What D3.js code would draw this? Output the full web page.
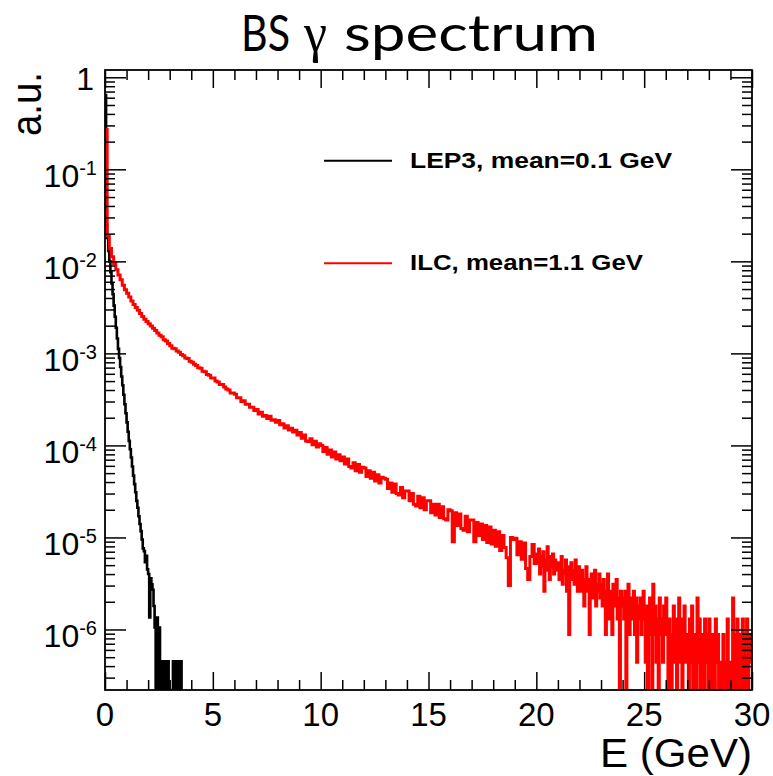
<!DOCTYPE html>
<html lang="en">
<head>
	<meta charset="utf-8">
	<title>BS gamma spectrum</title>
	<script src="https://cdn.jsdelivr.net/npm/d3@7"></script>
	<style>
		body { margin: 0; background: #fff; }
		svg { display: block; }
	</style>
</head>
<body>
	<script>
	// ILC spectrum 0-20 GeV, 0.1 GeV bins (a.u.)
	var ilcLowBin = 0.1;
	var ilcLow = [
		0.27, 1.9e-2, 1.38e-2, 1.12e-2, 9.5e-3, 8.1e-3, 7.1e-3, 6.3e-3, 5.5e-3, 4.9e-3,
		4.5e-3, 4.1e-3, 3.7e-3, 3.4e-3, 3.15e-3, 2.95e-3, 2.72e-3, 2.52e-3, 2.35e-3, 2.22e-3,
		2.1e-3, 1.98e-3, 1.87e-3, 1.77e-3, 1.67e-3, 1.57e-3, 1.52e-3, 1.41e-3, 1.36e-3, 1.28e-3,
		1.21e-3, 1.14e-3, 1.12e-3, 1.06e-3, 1.03e-3, 9.7e-4, 9.4e-4, 8.9e-4, 8.8e-4, 8.2e-4,
		8.0e-4, 7.6e-4, 7.4e-4, 7.0e-4, 6.9e-4, 6.4e-4, 6.3e-4, 5.9e-4, 5.8e-4, 5.4e-4,
		5.4e-4, 5.0e-4, 4.9e-4, 4.6e-4, 4.6e-4, 4.3e-4, 4.1e-4, 4.0e-4, 3.7e-4, 3.7e-4,
		3.6e-4, 3.3e-4, 3.3e-4, 3.0e-4, 3.05e-4, 2.8e-4, 2.8e-4, 2.6e-4, 2.6e-4, 2.4e-4,
		2.45e-4, 2.2e-4, 2.3e-4, 2.08e-4, 2.12e-4, 1.96e-4, 2.07e-4, 1.88e-4, 1.9e-4, 1.78e-4,
		1.86e-4, 1.68e-4, 1.72e-4, 1.55e-4, 1.64e-4, 1.47e-4, 1.54e-4, 1.40e-4, 1.46e-4, 1.30e-4,
		1.38e-4, 1.20e-4, 1.30e-4, 1.12e-4, 1.10e-4, 1.18e-4, 1.02e-4, 1.11e-4, 9.6e-5, 1.04e-4,
		1.0e-4, 8.6e-5, 9.5e-5, 8.0e-5, 8.9e-5, 7.5e-5, 8.5e-5, 7.1e-5, 7.9e-5, 6.8e-5,
		7.5e-5, 6.3e-5, 7.1e-5, 5.9e-5, 5.7e-5, 6.5e-5, 5.3e-5, 6.2e-5, 5.1e-5, 5.8e-5,
		5.7e-5, 4.6e-5, 5.3e-5, 4.4e-5, 5.1e-5, 4.1e-5, 4.8e-5, 3.9e-5, 4.5e-5, 4.4e-5,
		4.3e-5, 3.4e-5, 3.9e-5, 3.1e-5, 3.8e-5, 3.0e-5, 2.9e-5, 3.5e-5, 2.7e-5, 3.2e-5,
		3.2e-5, 2.5e-5, 3.0e-5, 2.3e-5, 2.2e-5, 2.8e-5, 2.1e-5, 2.7e-5, 2.0e-5, 2.5e-5,
		2.5e-5, 1.85e-5, 2.3e-5, 1.75e-5, 2.3e-5, 1.65e-5, 2.15e-5, 1.6e-5, 1.55e-5, 2.0e-5,
		1.95e-5, 9.0e-6, 1.85e-5, 1.35e-5, 1.8e-5, 1.25e-5, 1.2e-5, 1.7e-5, 1.15e-5, 1.55e-5,
		1.55e-5, 9.0e-6, 1.45e-5, 1.05e-5, 1.4e-5, 9.5e-6, 1.35e-5, 8.8e-6, 1.3e-5, 8.5e-6,
		1.2e-5, 8.0e-6, 1.15e-5, 7.2e-6, 1.05e-5, 7.8e-6, 6.0e-6, 3.0e-6, 1.0e-5, 9.5e-6,
		9.8e-6, 6.5e-6, 9.0e-6, 5.8e-6, 8.7e-6, 4.6e-6, 3.5e-6, 6.2e-6, 8.4e-6, 5.2e-6
	];

	// ILC spectrum 20-30 GeV, 0.05 GeV bins (a.u.)
	var ilcTailBin = 0.05;
	var ilcTail = [
		6.6e-6, 5.3e-6, 7.5e-6, 4.0e-6, 6.2e-6, 4.8e-6, 7.0e-6, 2.6e-6, 5.7e-6, 4.4e-6,
		7.9e-6, 5.3e-6, 3.5e-6, 6.2e-6, 4.8e-6, 6.6e-6, 4.0e-6, 5.7e-6, 4.4e-6, 5.3e-6,
		5.3e-6, 3.5e-6, 4.8e-6, 6.2e-6, 3.1e-6, 4.4e-6, 4.0e-6, 5.7e-6, 2.6e-6, 4.8e-6,
		8.8e-7, 4.0e-6, 5.3e-6, 3.5e-6, 4.4e-6, 3.1e-6, 5.7e-6, 4.0e-6, 2.6e-6, 4.8e-6,
		4.0e-6, 2.6e-6, 4.4e-6, 3.1e-6, 1.8e-6, 3.5e-6, 4.8e-6, 2.6e-6, 3.5e-6, 8.8e-7,
		3.1e-6, 4.0e-6, 2.2e-6, 3.5e-6, 4.4e-6, 1.8e-6, 3.1e-6, 2.6e-6, 4.0e-6, 2.2e-6,
		3.1e-6, 1.8e-6, 3.5e-6, 2.2e-6, 8.8e-7, 2.6e-6, 4.0e-6, 1.3e-6, 2.6e-6, 2.2e-6,
		8.8e-7, 3.1e-6, 1.8e-6, 2.6e-6, 3.5e-6, 1.3e-6, 2.2e-6, 0, 2.6e-6, 1.8e-6,
		2.2e-6, 1.3e-6, 2.6e-6, 0, 1.8e-6, 3.1e-6, 8.8e-7, 2.2e-6, 1.8e-6, 1.3e-6,
		2.6e-6, 8.8e-7, 2.2e-6, 4.4e-7, 1.8e-6, 1.3e-6, 2.2e-6, 8.8e-7, 1.8e-6, 2.6e-6,
		1.3e-6, 4.4e-7, 1.8e-6, 0, 8.8e-7, 2.2e-6, 1.3e-6, 0, 3.1e-6, 8.8e-7,
		1.8e-6, 4.4e-7, 1.3e-6, 0, 2.2e-6, 8.8e-7, 1.3e-6, 4.4e-7, 1.8e-6, 8.8e-7,
		2.2e-6, 8.8e-7, 0, 1.3e-6, 4.4e-7, 0, 8.8e-7, 1.8e-6, 4.4e-7, 1.3e-6,
		0, 8.8e-7, 2.2e-6, 4.4e-7, 1.3e-6, 0, 8.8e-7, 1.8e-6, 4.4e-7, 8.8e-7,
		8.8e-7, 0, 1.3e-6, 4.4e-7, 1.8e-6, 0, 4.4e-7, 8.8e-7, 0, 2.2e-6,
		4.4e-7, 1.3e-6, 0, 8.8e-7, 4.4e-7, 0, 1.3e-6, 4.4e-7, 8.8e-7, 0,
		1.3e-6, 4.4e-7, 0, 8.8e-7, 4.4e-7, 0, 1.3e-6, 4.4e-7, 8.8e-7, 0,
		4.4e-7, 4.4e-7, 0, 8.8e-7, 4.4e-7, 0, 4.4e-7, 1.3e-6, 0, 4.4e-7,
		4.4e-7, 0, 2.2e-6, 8.8e-7, 0, 4.4e-7, 1.3e-6, 0, 8.8e-7, 4.4e-7,
		0, 1.3e-6, 4.4e-7, 0, 8.8e-7, 1.3e-6, 0, 4.4e-7, 8.8e-7, 4.4e-7
	];

	// LEP3 spectrum 0-3.6 GeV, 0.05 GeV bins (a.u.)
	var lep3Bin = 0.05;
	var lep3 = [
		0.64, 2.5e-2, 1.8e-2, 1.3e-2, 1.0e-2, 7.6e-3, 5.75e-3, 4.4e-3, 3.3e-3, 2.5e-3,
		1.9e-3, 1.45e-3, 1.12e-3, 8.9e-4, 7.1e-4, 5.6e-4, 4.5e-4, 3.55e-4, 2.8e-4, 2.24e-4,
		1.78e-4, 1.41e-4, 1.12e-4, 9.1e-5, 7.4e-5, 5.9e-5, 4.7e-5, 3.8e-5, 3.1e-5, 2.5e-5,
		2.1e-5, 1.7e-5, 1.4e-5, 1.17e-5, 9.5e-6, 7.6e-6, 7.1e-6, 5.4e-6, 6.3e-6, 4.5e-6,
		4.0e-6, 1.35e-6, 3.6e-6, 3.1e-6, 2.7e-6, 1.8e-6, 1.05e-6, 0, 1.35e-6, 0,
		1.05e-6, 0, 4.5e-7, 0, 4.5e-7, 0, 4.5e-7, 0, 4.5e-7, 0,
		0, 0, 0, 4.5e-7, 0, 4.5e-7, 0, 4.5e-7, 0, 4.5e-7,
		4.5e-7, 0
	];

	var xMajor = [0, 5, 10, 15, 20, 25, 30];
	var yDecades = [1e-6, 1e-5, 1e-4, 1e-3, 1e-2, 1e-1, 1];
	var yLabelExp = ["-6", "-5", "-4", "-3", "-2", "-1", ""];
	var legendNames = ["LEP3, mean=0.1 GeV", "ILC, mean=1.1 GeV"];

	var w = 773, h = 776;
	// frame edges in pixels
	var pLeft = 105, pRight = 752, pTop = 70, pBottom = 690;

	var svg = d3.select("body").append("svg")
		.attr("width", w)
		.attr("height", h);

	var x = d3.scaleLinear().domain([0, 30]).range([pLeft, pRight]);
	var y = d3.scaleLog().domain([2.2e-7, 1.2]).range([pBottom, pTop]).clamp(true);

	// minor ticks
	var xMinor = d3.range(0, 31).filter(function(v) { return v % 5 != 0; });
	var yMinor = [];
	yDecades.forEach(function(d) {
		for (var k = 2; k <= 9; k++) {
			var v = d * k / 10;
			if (v > 2.2e-7 && v < 1.2) yMinor.push(v);
		}
	});

	svg.append("clipPath").attr("id", "plot")
		.append("rect")
		.attr("x", pLeft).attr("y", pTop)
		.attr("width", pRight - pLeft).attr("height", pBottom - pTop);

	// histogram bins as step points, starting at E = start
	function steps(values, bw, start) {
		var pts = [];
		values.forEach(function(v, i) {
			pts.push([start + i * bw, v]);
			pts.push([start + (i + 1) * bw, v]);
		});
		return pts;
	}
	var line = d3.line()
		.x(function(d) { return x(d[0]); })
		.y(function(d) { return y(Math.max(d[1], 1e-9)); });

	var g = svg.append("g").attr("clip-path", "url(#plot)");
	g.append("path")
		.attr("d", line(steps(lep3, lep3Bin, 0)))
		.attr("fill", "none")
		.attr("stroke", "#000")
		.attr("stroke-width", 2.6);
	g.append("path")
		.attr("d", line(steps(ilcLow, ilcLowBin, 0).concat(steps(ilcTail, ilcTailBin, 20))))
		.attr("fill", "none")
		.attr("stroke", "#ff0000")
		.attr("stroke-width", 3);

	// ticks on all four sides
	function ticks(axis, tr) {
		var a = svg.append("g").attr("transform", tr).call(axis);
		a.select(".domain").remove();
		a.selectAll("text").remove();
		a.selectAll("line").attr("stroke", "#000").attr("stroke-width", 1.5);
	}
	ticks(d3.axisBottom(x).tickValues(xMajor).tickSize(-18), "translate(0," + pBottom + ")");
	ticks(d3.axisBottom(x).tickValues(xMinor).tickSize(-10), "translate(0," + pBottom + ")");
	ticks(d3.axisTop(x).tickValues(xMajor).tickSize(-18), "translate(0," + pTop + ")");
	ticks(d3.axisTop(x).tickValues(xMinor).tickSize(-10), "translate(0," + pTop + ")");
	ticks(d3.axisLeft(y).tickValues(yDecades).tickSize(-21), "translate(" + pLeft + ",0)");
	ticks(d3.axisLeft(y).tickValues(yMinor).tickSize(-10), "translate(" + pLeft + ",0)");
	ticks(d3.axisRight(y).tickValues(yDecades).tickSize(-21), "translate(" + pRight + ",0)");
	ticks(d3.axisRight(y).tickValues(yMinor).tickSize(-10), "translate(" + pRight + ",0)");

	// frame
	svg.append("rect")
		.attr("x", pLeft).attr("y", pTop)
		.attr("width", pRight - pLeft).attr("height", pBottom - pTop)
		.attr("fill", "none")
		.attr("stroke", "#000")
		.attr("stroke-width", 1.8);

	// x tick labels
	svg.selectAll(".xlab")
		.data(xMajor)
		.enter()
		.append("text")
		.attr("class", "xlab")
		.attr("x", function(d) { return x(d); })
		.attr("y", 726)
		.attr("text-anchor", "middle")
		.attr("font-family", "Liberation Sans, Arial, sans-serif")
		.attr("font-size", 33)
		.text(function(d) { return d; });

	// y tick labels, 10 with superscript exponent
	yDecades.forEach(function(d, i) {
		var t = svg.append("text")
			.attr("x", 97)
			.attr("text-anchor", "end")
			.attr("font-family", "Liberation Sans, Arial, sans-serif")
			.attr("font-size", 32);
		if (yLabelExp[i] == "") {
			t.attr("x", 94).attr("y", y(d) + 13).text("1");
		} else {
			t.attr("y", y(d) + 18).text("10");
			t.append("tspan")
				.attr("font-size", 20)
				.attr("dy", -12)
				.text(yLabelExp[i]);
		}
	});

	// axis titles
	svg.append("text")
		.attr("x", pRight)
		.attr("y", 767)
		.attr("text-anchor", "end")
		.attr("font-family", "Liberation Sans, Arial, sans-serif")
		.attr("font-size", 40)
		.attr("textLength", 152)
		.attr("lengthAdjust", "spacingAndGlyphs")
		.text("E (GeV)");

	svg.append("text")
		.attr("text-anchor", "end")
		.attr("transform", "translate(41,72) rotate(-90)")
		.attr("font-family", "Liberation Sans, Arial, sans-serif")
		.attr("font-size", 42)
		.attr("textLength", 64)
		.attr("lengthAdjust", "spacingAndGlyphs")
		.text("a.u.");

	// title
	var titleFont = "Lato, Open Sans, sans-serif";
	svg.append("text")
		.attr("x", 241).attr("y", 51)
		.attr("font-family", titleFont)
		.attr("font-size", 50)
		.attr("textLength", 49)
		.attr("lengthAdjust", "spacingAndGlyphs")
		.text("BS");
	svg.append("text")
		.attr("x", 304).attr("y", 51)
		.attr("font-family", "Liberation Serif, serif")
		.attr("font-size", 54)
		.attr("textLength", 23)
		.attr("lengthAdjust", "spacingAndGlyphs")
		.text("\u03b3");
	svg.append("text")
		.attr("x", 344).attr("y", 51)
		.attr("font-family", titleFont)
		.attr("font-size", 50)
		.attr("textLength", 254)
		.attr("lengthAdjust", "spacingAndGlyphs")
		.text("spectrum");

	// legend
	var legendColor = ["#000", "#ff0000"];
	var legendY = [160.7, 263.3];
	var legendLen = [262, 233];
	legendNames.forEach(function(name, i) {
		svg.append("line")
			.attr("x1", 324).attr("x2", 392)
			.attr("y1", legendY[i]).attr("y2", legendY[i])
			.attr("stroke", legendColor[i])
			.attr("stroke-width", 2);
		svg.append("text")
			.attr("x", 410)
			.attr("y", legendY[i] + 6.8)
			.attr("font-family", "Liberation Sans, Arial, sans-serif")
			.attr("font-weight", "bold")
			.attr("font-size", 22)
			.attr("textLength", legendLen[i])
			.attr("lengthAdjust", "spacingAndGlyphs")
			.text(name);
	});
	</script>
</body>
</html>
